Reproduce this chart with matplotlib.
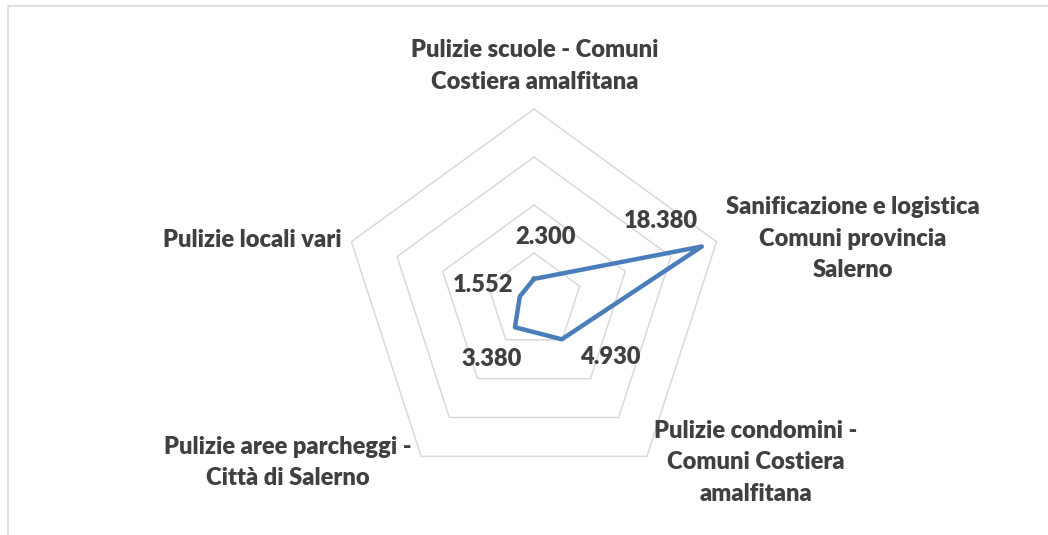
import matplotlib.pyplot as plt
import numpy as np
from matplotlib.patches import Rectangle

categories = ["Pulizie scuole - Comuni\nCostiera amalfitana",
              "Sanificazione e logistica\nComuni provincia\nSalerno",
              "Pulizie condomini -\nComuni Costiera\namalfitana",
              "Pulizie aree parcheggi -\nCittà di Salerno",
              "Pulizie locali vari"]
values = [2.300, 18.380, 4.930, 3.380, 1.552]
value_labels = ["2.300", "18.380", "4.930", "3.380", "1.552"]
rings = [5, 10, 15, 20]

# label offsets in pixels (x, y)
val_off = [(11, 42), (-41, 25), (48, -18), (-23, -32), (-37, 11)]
cat_off = [(1, 43), (136, 3), (109, -6), (-133, -6), (-99, 2)]

text_col = "#404040"
line_col = "#4A7EBB"
grid_col = "#D9D9D9"

plt.rcParams['font.family'] = ['Lato', 'DejaVu Sans']

n = len(categories)
ang = np.pi / 2 - np.arange(n) * 2 * np.pi / n

fig = plt.figure(figsize=(10.48, 5.35), dpi=100)
W, H = 1048, 535
cx, cy, half = 534, 301, 220
ax = fig.add_axes([(cx - half) / W, (H - cy - half) / H, 2 * half / W, 2 * half / H])
lim = rings[-1] * half / 192
ax.set_xlim(-lim, lim)
ax.set_ylim(-lim, lim)
ax.axis('off')

for r in rings:
    xs = np.append(r * np.cos(ang), r * np.cos(ang[0]))
    ys = np.append(r * np.sin(ang), r * np.sin(ang[0]))
    ax.plot(xs, ys, color=grid_col, lw=1.1, zorder=1)

v = np.array(values)
xs = np.append(v * np.cos(ang), v[0] * np.cos(ang[0]))
ys = np.append(v * np.sin(ang), v[0] * np.sin(ang[0]))
ax.plot(xs, ys, color=line_col, lw=3.2, zorder=3, solid_joinstyle='round')

for i in range(n):
    ax.annotate(value_labels[i], (v[i] * np.cos(ang[i]), v[i] * np.sin(ang[i])),
                xytext=val_off[i], textcoords='offset pixels', ha='center', va='center',
                fontsize=17, fontweight='heavy', color=text_col, annotation_clip=False)
    R = rings[-1]
    ax.annotate(categories[i], (R * np.cos(ang[i]), R * np.sin(ang[i])),
                xytext=cat_off[i], textcoords='offset pixels', ha='center', va='center',
                multialignment='center', linespacing=1.52,
                fontsize=17, fontweight='heavy', color=text_col, annotation_clip=False)

fig.patches.append(Rectangle((8 / W, -0.1), 1.2, (H - 6) / H + 0.1, transform=fig.transFigure,
                             fill=False, edgecolor="#D9D9D9", lw=1.2))

plt.savefig("out.png", dpi=100)
